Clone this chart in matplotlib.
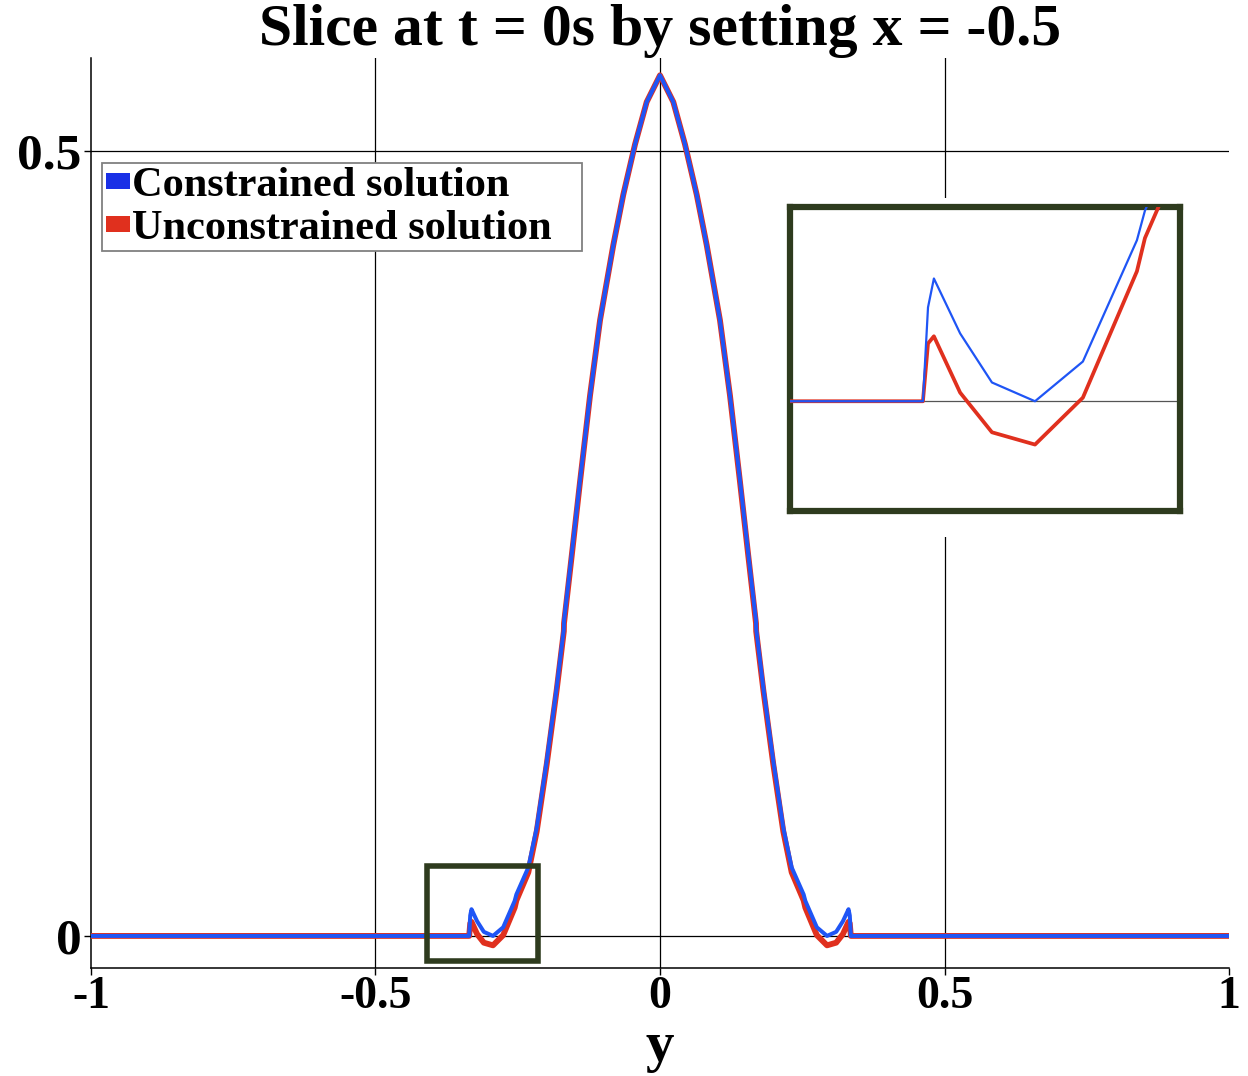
import matplotlib
matplotlib.use("Agg")
import matplotlib.pyplot as plt
from matplotlib.patches import Rectangle, Patch

plt.rcParams['font.family'] = ['Liberation Serif', 'DejaVu Serif']
plt.rcParams['font.weight'] = 'bold'
plt.rcParams['axes.unicode_minus'] = False

# sample positions along y (shared by both series)
y_pos = [-1.0, -0.3354, -0.3335, -0.3313, -0.3215, -0.3096, -0.2935, -0.2756,
         -0.2554, -0.2524, -0.2314, -0.2167, -0.199, -0.1816, -0.1690, -0.1687,
         -0.155, -0.1406, -0.123, -0.1054, -0.082, -0.0645, -0.0439, -0.0234,
         0.0,
         0.0234, 0.0439, 0.0645, 0.082, 0.1054, 0.123, 0.1406, 0.155,
         0.1687, 0.1690, 0.1816, 0.199, 0.2167, 0.2314, 0.2524, 0.2554,
         0.2756, 0.2935, 0.3096, 0.3215, 0.3313, 0.3335, 0.3354, 1.0]

constrained = [0.0, 0.0, 0.0130, 0.0170, 0.0094, 0.0026, 0.0000, 0.0055,
               0.0223, 0.0264, 0.0436, 0.0688, 0.1115, 0.158, 0.1955, 0.2006,
               0.2436, 0.290, 0.344, 0.392, 0.440, 0.472, 0.504, 0.531,
               0.548,
               0.531, 0.504, 0.472, 0.440, 0.392, 0.344, 0.290, 0.2436,
               0.2006, 0.1955, 0.158, 0.1115, 0.0688, 0.0436, 0.0264, 0.0223,
               0.0055, 0.0000, 0.0026, 0.0094, 0.0170, 0.0130, 0.0, 0.0]

unconstrained = [0.0, 0.0, 0.0080, 0.0090, 0.0012, -0.0043, -0.0060, 0.0005,
                 0.0180, 0.0226, 0.0405, 0.0665, 0.1095, 0.1565, 0.194, 0.199,
                 0.2425, 0.289, 0.344, 0.392, 0.440, 0.472, 0.504, 0.531,
                 0.548,
                 0.531, 0.504, 0.472, 0.440, 0.392, 0.344, 0.289, 0.2425,
                 0.199, 0.194, 0.1565, 0.1095, 0.0665, 0.0405, 0.0226, 0.0180,
                 0.0005, -0.0060, -0.0043, 0.0012, 0.0090, 0.0080, 0.0, 0.0]

x_ticks = [-1, -0.5, 0, 0.5, 1]
x_tick_labels = ['-1', '-0.5', '0', '0.5', '1']
y_ticks = [0, 0.5]
y_tick_labels = ['0', '0.5']

blue = '#1f55f5'
red = '#e0301e'
box_green = '#2e3b1e'

fig = plt.figure(figsize=(12.48, 10.76), dpi=100)
ax = fig.add_axes([0.0729, 0.1004, 0.9119, 0.8457])

ax.plot(y_pos, unconstrained, color=red, lw=4.2, zorder=3)
ax.plot(y_pos, constrained, color=blue, lw=2.9, zorder=4)

ax.set_xlim(-1, 1)
ax.set_ylim(-0.0204, 0.559)
ax.set_xticks(x_ticks, x_tick_labels)
ax.set_yticks(y_ticks, y_tick_labels)
ax.tick_params(axis='both', length=5, width=1, direction='out')
ax.tick_params(axis='x', labelsize=33, pad=1)
ax.tick_params(axis='y', labelsize=37, pad=2)
for t in ax.get_xticklabels() + ax.get_yticklabels():
    t.set_fontweight('bold')

for s in ['top', 'right']:
    ax.spines[s].set_visible(False)
for s in ['left', 'bottom']:
    ax.spines[s].set_linewidth(1.1)

for gx in [-0.5, 0, 0.5]:
    ax.axvline(gx, color='black', lw=0.9, zorder=1)
for gy in [0, 0.5]:
    ax.axhline(gy, color='black', lw=0.9, zorder=1)

ax.set_title('Slice at t = 0s by setting x = -0.5', fontsize=43,
             fontweight='bold', pad=8)
ax.set_xlabel('y', fontsize=41, fontweight='bold', labelpad=2)

# small box marking the zoomed region
ax.add_patch(Rectangle((-0.4095, -0.0159), 0.1951, 0.0605, fill=False,
                       edgecolor=box_green, lw=4, zorder=5))

# legend frame, a little wider than the text as in the original
ax.add_patch(Rectangle((0.0097, 0.7879), 0.4218, 0.0967, transform=ax.transAxes,
                       facecolor='white', edgecolor='#808080', lw=1.3,
                       zorder=9, clip_on=False))

handles = [Patch(facecolor='#1a30e6', edgecolor='none', label='Constrained solution'),
           Patch(facecolor=red, edgecolor='none', label='Unconstrained solution')]
leg = ax.legend(handles=handles, loc='upper left', bbox_to_anchor=(0.0097, 0.8846),
                borderaxespad=0, fontsize=30.5, handlelength=0.55, handleheight=0.18,
                handletextpad=0.05, labelspacing=0.12, borderpad=0.1,
                frameon=False)
leg.set_zorder(10)
for t in leg.get_texts():
    t.set_fontweight('bold')

# white backing behind the inset
fig.patches.append(Rectangle((783 / 1248, 1 - 537 / 1076), 413 / 1248, 339 / 1076,
                             transform=fig.transFigure, facecolor='white',
                             edgecolor='none', zorder=0.5))

axin = fig.add_axes([0.633, 0.5251, 0.3125, 0.2825])
axin.set_zorder(1)
axin.axhline(0, color='#555555', lw=0.9, zorder=1)
axin.plot(y_pos, unconstrained, color=red, lw=2.7, zorder=3)
axin.plot(y_pos, constrained, color=blue, lw=1.6, zorder=4)
axin.set_xlim(-0.3851, -0.2393)
axin.set_ylim(-0.0152, 0.0269)
axin.set_xticks([])
axin.set_yticks([])
for s in axin.spines.values():
    s.set_edgecolor(box_green)
    s.set_linewidth(4.5)

fig.savefig('out.png', dpi=100)
